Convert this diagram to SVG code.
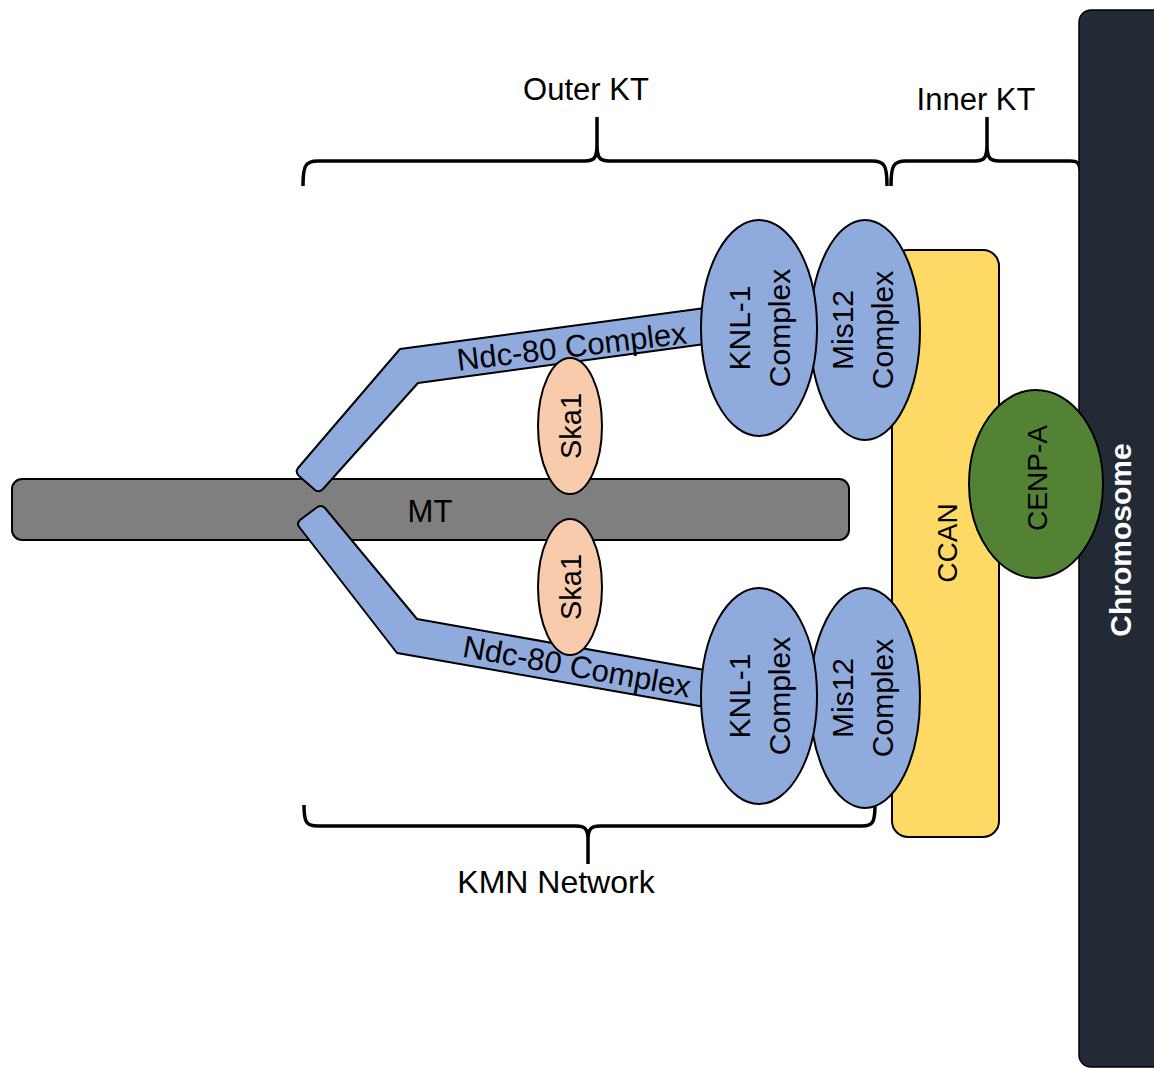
<svg xmlns="http://www.w3.org/2000/svg" width="1154" height="1068" viewBox="0 0 1154 1068">
<style>
text{font-family:"Liberation Sans",Arial,sans-serif;fill:#000}
.lbl{font-size:30px}
.ttl{font-size:31px}
.sh{stroke:#000;stroke-width:2;stroke-linejoin:round}
.blue{fill:#8faadc}
.brace{fill:none;stroke:#000;stroke-width:3.5;stroke-linecap:butt}
</style>
<rect width="1154" height="1068" fill="#fff"/>
<g id="braces">
<path class="brace" d="M303,186 C303,166 305,161 318,161 L585,161 C594,161 597,158 597,145 L597,117 M597,145 C597,158 600,161 609,161 L872,161 C885,161 887,166 887,186"/>
<path class="brace" d="M891,186 C891,166 893,161 906,161 L975,161 C984,161 987,158 987,145 L987,117 M987,145 C987,158 990,161 999,161 L1070,161 C1077,161 1080,163 1080,170"/>
<path class="brace" d="M304,805 C304,822 306,826 318,826 L576,826 C585,826 588,829 588,840 L588,864 M588,840 C588,829 591,826 600,826 L862,826 C873,826 875,822 875,805"/>
</g>
<text class="ttl" x="586" y="100" text-anchor="middle">Outer KT</text>
<text class="ttl" x="976" y="110" text-anchor="middle">Inner KT</text>
<text x="556" y="893" font-size="32" text-anchor="middle">KMN Network</text>
<g id="chromosome">
<rect x="1079" y="10" width="95" height="1057" rx="12" fill="#222a35" stroke="#000" stroke-width="1.5"/>
<text x="1131" y="540" transform="rotate(-90 1131 540)" text-anchor="middle" font-size="30" font-weight="bold" style="fill:#fff">Chromosome</text>
</g>
<g id="mt">
<rect class="sh" x="12" y="479" width="837" height="61" rx="10" fill="#7f7f7f"/>
<text class="ttl" x="430" y="522" text-anchor="middle">MT</text>
</g>
<g id="ndc80-upper">
<path class="sh blue" d="M400,349 L705,308 L705,344 L418,383 L323,489 Q319,493 315,490 L299,476 Q295,472 298,468 Z"/>
<text x="573" y="357" font-size="31" text-anchor="middle" transform="rotate(-6.8 573 357)">Ndc-80 Complex</text>
</g>
<g id="ndc80-lower">
<path class="sh blue" d="M417,619 L705,670 L705,707 L397,653 L300,528 Q296,524 300,520 L316,508 Q321,504 325,508 Z"/>
<text x="575" y="677" font-size="31" text-anchor="middle" transform="rotate(10.2 575 677)">Ndc-80 Complex</text>
</g>
<g id="ska1-upper">
<ellipse class="sh" cx="570" cy="426" rx="32" ry="68" fill="#f8cbad"/>
<text x="581" y="426" font-size="29" text-anchor="middle" transform="rotate(-90 581 426)">Ska1</text>
</g>
<g id="ska1-lower">
<ellipse class="sh" cx="570" cy="587" rx="32" ry="68" fill="#f8cbad"/>
<text x="581" y="587" font-size="29" text-anchor="middle" transform="rotate(-90 581 587)">Ska1</text>
</g>
<g id="ccan">
<rect class="sh" x="892" y="250" width="107" height="587" rx="16" fill="#ffd966"/>
<text x="957" y="543" font-size="28" text-anchor="middle" transform="rotate(-90 957 543)">CCAN</text>
</g>
<g id="cenp-a">
<ellipse class="sh" cx="1036" cy="484" rx="67" ry="94" fill="#548235"/>
<text x="1047" y="478" font-size="28" text-anchor="middle" transform="rotate(-90 1047 478)">CENP-A</text>
</g>
<g id="mis12-upper">
<ellipse class="sh blue" cx="865" cy="330" rx="55" ry="110"/>
<g transform="translate(865 330) rotate(-90)"><text class="lbl" x="0" y="-12" text-anchor="middle">Mis12</text><text class="lbl" x="0" y="28" text-anchor="middle">Complex</text></g>
</g>
<g id="knl1-upper">
<ellipse class="sh blue" cx="759" cy="328" rx="58" ry="108"/>
<g transform="translate(759 328) rotate(-90)"><text class="lbl" x="0" y="-9" text-anchor="middle">KNL-1</text><text class="lbl" x="0" y="31" text-anchor="middle">Complex</text></g>
</g>
<g id="mis12-lower">
<ellipse class="sh blue" cx="865" cy="698" rx="55" ry="110"/>
<g transform="translate(865 698) rotate(-90)"><text class="lbl" x="0" y="-12" text-anchor="middle">Mis12</text><text class="lbl" x="0" y="28" text-anchor="middle">Complex</text></g>
</g>
<g id="knl1-lower">
<ellipse class="sh blue" cx="759" cy="696" rx="58" ry="108"/>
<g transform="translate(759 696) rotate(-90)"><text class="lbl" x="0" y="-9" text-anchor="middle">KNL-1</text><text class="lbl" x="0" y="31" text-anchor="middle">Complex</text></g>
</g>
</svg>
